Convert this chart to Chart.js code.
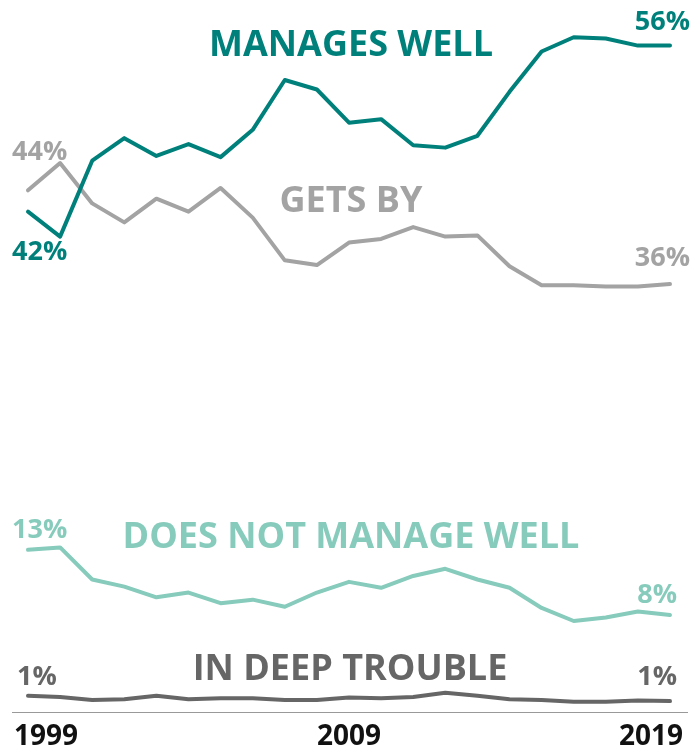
<!DOCTYPE html>
<html>
<head>
<meta charset="utf-8">
<script src="https://cdn.jsdelivr.net/npm/chart.js@4"></script>
<style>
  html, body { margin: 0; padding: 0; background: #fff; }
  #wrap { width: 691px; height: 749px; }
</style>
</head>
<body>
<div id="wrap"><canvas id="chart" width="691" height="749"></canvas></div>
<script>
const years = ['1999','2000','2001','2002','2003','2004','2005','2006','2007','2008','2009',
               '2010','2011','2012','2013','2014','2015','2016','2017','2018','2019'];
const yearTicks = ['1999', '2009', '2019'];

const managesWell = [42.0, 39.9, 46.3, 48.2, 46.7, 47.7, 46.6, 48.9, 53.1, 52.3, 49.5,
                     49.8, 47.6, 47.4, 48.4, 52.1, 55.5, 56.7, 56.6, 56.0, 56.0];
const getsBy = [43.8, 46.1, 42.7, 41.1, 43.1, 42.0, 44.0, 41.5, 37.9, 37.5, 39.4,
                39.7, 40.7, 39.9, 40.0, 37.4, 35.8, 35.8, 35.7, 35.7, 35.9];
const notWell = [13.5, 13.7, 11.0, 10.4, 9.5, 9.9, 9.0, 9.3, 8.7, 9.9, 10.8,
                 10.3, 11.3, 11.9, 11.0, 10.3, 8.6, 7.5, 7.8, 8.3, 8.0];
const deepTrouble = [1.2, 1.1, 0.85, 0.9, 1.2, 0.9, 1.0, 1.0, 0.85, 0.85, 1.05,
                     1.0, 1.1, 1.45, 1.2, 0.9, 0.85, 0.7, 0.7, 0.8, 0.75];

const TEAL = '#00807b';
const GRAY = '#a3a3a3';
const LIGHT = '#86cbbb';
const DARK = '#666666';
const FONT = '"Open Sans", "DejaVu Sans", sans-serif';

// series names and end labels (text, colour, x, y, align)
const names = [
    ['MANAGES WELL', TEAL, 351, 56],
    ['GETS BY', GRAY, 351, 212],
    ['DOES NOT MANAGE WELL', LIGHT, 351, 548],
    ['IN DEEP TROUBLE', DARK, 350, 680]
];
const endLabels = [
    ['44%', GRAY, 12, 160, 'left'],
    ['42%', TEAL, 12, 260, 'left'],
    ['56%', TEAL, 690, 30, 'right'],
    ['36%', GRAY, 690, 266, 'right'],
    ['13%', LIGHT, 12, 538, 'left'],
    ['8%', LIGHT, 677, 603, 'right'],
    ['1%', DARK, 17, 685, 'left'],
    ['1%', DARK, 677, 685, 'right']
];

const textPlugin = {
    id: 'texts',
    afterDraw(chart) {
        const ctx = chart.ctx;
        const x = chart.scales.x;
        const bottom = chart.chartArea.bottom;
        ctx.save();
        // axis line
        ctx.strokeStyle = '#999';
        ctx.lineWidth = 1;
        ctx.beginPath();
        ctx.moveTo(12, bottom + 2.5);
        ctx.lineTo(688, bottom + 2.5);
        ctx.stroke();

        // year labels, outer ones pulled inside
        ctx.fillStyle = '#111';
        ctx.font = '700 28px ' + FONT;
        ctx.textBaseline = 'alphabetic';
        yearTicks.forEach((yr, i) => {
            const px = x.getPixelForValue(years.indexOf(yr));
            if (i === 0) { ctx.textAlign = 'left'; ctx.fillText(yr, px - 14, 745); }
            else if (i === yearTicks.length - 1) { ctx.textAlign = 'right'; ctx.fillText(yr, px + 13, 745); }
            else { ctx.textAlign = 'center'; ctx.fillText(yr, px, 745); }
        });

        ctx.font = '700 36px ' + FONT;
        ctx.textAlign = 'center';
        names.forEach(n => {
            ctx.fillStyle = n[1];
            ctx.fillText(n[0], n[2], n[3]);
        });

        ctx.font = '700 27px ' + FONT;
        endLabels.forEach(l => {
            ctx.fillStyle = l[1];
            ctx.textAlign = l[4];
            ctx.fillText(l[0], l[2], l[3]);
        });
        ctx.restore();
    }
};

const line = (data, color) => ({
    data: data,
    borderColor: color,
    borderWidth: 4,
    borderCapStyle: 'round',
    borderJoinStyle: 'round',
    pointRadius: 0,
    tension: 0,
    fill: false
});

new Chart(document.getElementById('chart'), {
    type: 'line',
    data: {
        labels: years,
        datasets: [
            line(managesWell, TEAL),
            line(getsBy, GRAY),
            line(notWell, LIGHT),
            line(deepTrouble, DARK)
        ]
    },
    options: {
        responsive: false,
        animation: false,
        clip: false,
        layout: { padding: { left: 28, right: 21, top: 10, bottom: 39 } },
        scales: {
            x: { display: false },
            y: { display: false, min: 0, max: 59 }
        },
        plugins: {
            legend: { display: false },
            tooltip: { enabled: false }
        }
    },
    plugins: [textPlugin]
});
</script>
</body>
</html>
